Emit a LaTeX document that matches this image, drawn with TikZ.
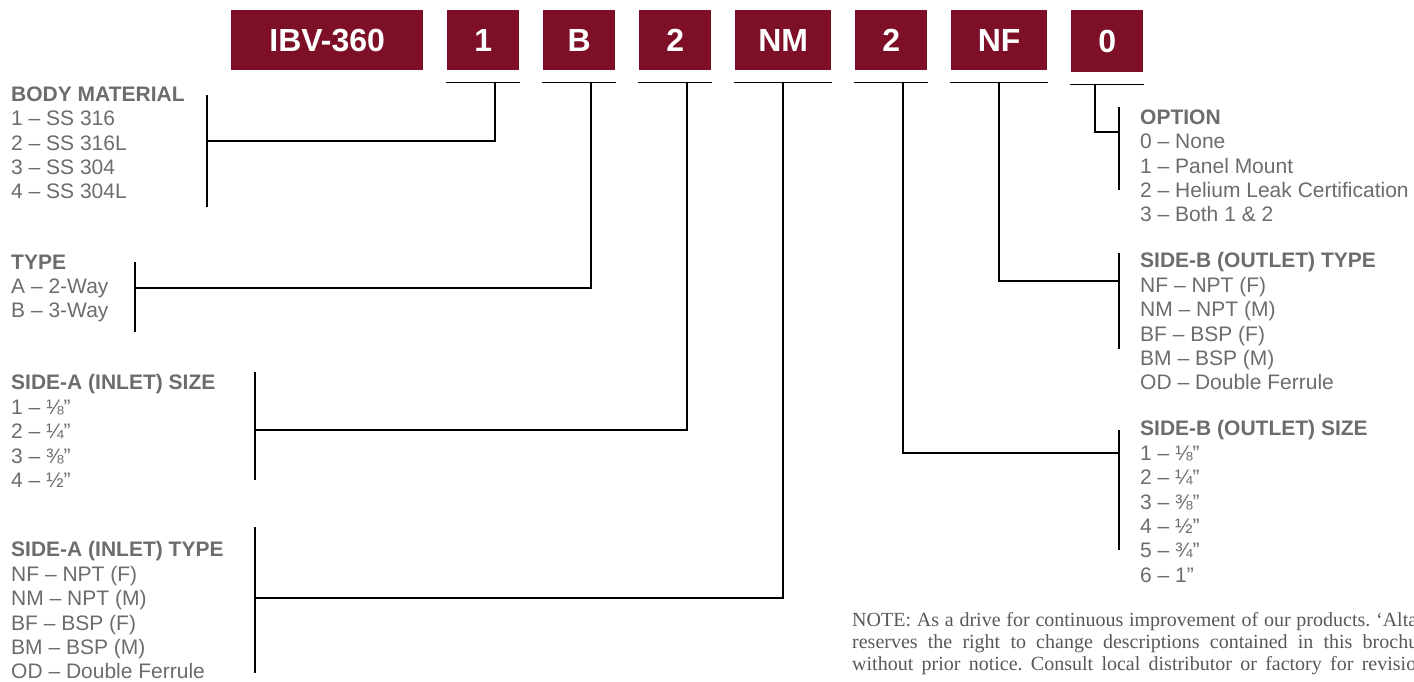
\documentclass[tikz,border=0pt]{standalone}
\usepackage{fontspec}
\setmainfont{Liberation Sans}
\newfontfamily\notefont{Liberation Serif}
\definecolor{ibvred}{RGB}{125,16,38}
\definecolor{txtgray}{RGB}{108,108,108}
\definecolor{notegray}{RGB}{88,88,88}
\frenchspacing

\begin{document}
\begin{tikzpicture}[
  x=1pt,y=-1pt,
  code/.style={fill=ibvred,text=white,font=\fontsize{32}{36}\selectfont\bfseries,
    minimum height=60pt,inner sep=0pt,anchor=north west},
  legend/.style={anchor=north west,inner sep=0pt,align=left,text=txtgray,
    font=\fontsize{21}{24.4}\selectfont},
  note/.style={anchor=base west,inner sep=0pt,text=notegray,
    font=\notefont\fontsize{20}{22}\selectfont},
  link/.style={line width=1.6pt}
]
  \useasboundingbox (0,0) rectangle (1414,681);

  % Ordering code boxes
  \node[code,minimum width=192pt] (ibv) at (231,10) {IBV-360};
  \node[code,minimum width=72pt] (b1) at (447,10) {1};
  \node[code,minimum width=72pt] (bB) at (543,10) {B};
  \node[code,minimum width=72pt] (b2) at (639,10) {2};
  \node[code,minimum width=96pt] (bNM) at (735,10) {NM};
  \node[code,minimum width=72pt] (b2b) at (855,10) {2};
  \node[code,minimum width=96pt] (bNF) at (951,10) {NF};
  \node[code,minimum width=72pt,minimum height=62pt] (b0) at (1071,10) {0};

  % Underlines
  \draw[link] ([xshift=-1pt,yshift=-12pt]b1.south west) -- ([xshift=1pt,yshift=-12pt]b1.south east);
  \draw[link] ([xshift=-1pt,yshift=-12pt]bB.south west) -- ([xshift=1pt,yshift=-12pt]bB.south east);
  \draw[link] ([xshift=-1pt,yshift=-12pt]b2.south west) -- ([xshift=1pt,yshift=-12pt]b2.south east);
  \draw[link] ([xshift=-1pt,yshift=-12pt]bNM.south west) -- ([xshift=1pt,yshift=-12pt]bNM.south east);
  \draw[link] ([xshift=-1pt,yshift=-12pt]b2b.south west) -- ([xshift=1pt,yshift=-12pt]b2b.south east);
  \draw[link] ([xshift=-1pt,yshift=-12pt]bNF.south west) -- ([xshift=1pt,yshift=-12pt]bNF.south east);
  \draw[link] ([xshift=-1pt,yshift=-12pt]b0.south west) -- ([xshift=1pt,yshift=-12pt]b0.south east);

  % Body material
  \node[legend] (body) at (11,86.5) {
    \textbf{BODY MATERIAL}\\
    1 – SS 316\\
    2 – SS 316L\\
    3 – SS 304\\
    4 – SS 304L
  };
  \draw[link] (207,95) -- (207,207);
  \coordinate (jbody) at (207,141);
  \draw[link] ([xshift=12pt,yshift=-12pt]b1.south) |- (jbody);

  % Type
  \node[legend] (type) at (11,254.5) {
    \textbf{TYPE}\\
    A – 2-Way\\
    B – 3-Way
  };
  \draw[link] (135,262) -- (135,332);
  \coordinate (jtype) at (135,288);
  \draw[link] ([xshift=12pt,yshift=-12pt]bB.south) |- (jtype);

  % Side-A size
  \node[legend] (sizeA) at (11,374.5) {
    \textbf{SIDE-A (INLET) SIZE}\\
    1 – ⅛”\\
    2 – ¼”\\
    3 – ⅜”\\
    4 – ½”
  };
  \draw[link] (255,372) -- (255,480);
  \coordinate (jsizeA) at (255,430);
  \draw[link] ([xshift=12pt,yshift=-12pt]b2.south) |- (jsizeA);

  % Side-A type
  \node[legend] (typeA) at (11,541.5) {
    \textbf{SIDE-A (INLET) TYPE}\\
    NF – NPT (F)\\
    NM – NPT (M)\\
    BF – BSP (F)\\
    BM – BSP (M)\\
    OD – Double Ferrule
  };
  \draw[link] (255,527) -- (255,673);
  \coordinate (jtypeA) at (255,598);
  \draw[link] ([yshift=-12pt]bNM.south) |- (jtypeA);

  % Option
  \node[legend] (option) at (1140,109.5) {
    \textbf{OPTION}\\
    0 – None\\
    1 – Panel Mount\\
    2 – Helium Leak Certification\\
    3 – Both 1 \& 2
  };
  \draw[link] (1119,107) -- (1119,190);
  \coordinate (joption) at (1119,132);
  \draw[link] ([xshift=-12pt,yshift=-12pt]b0.south) |- (joption);

  % Side-B type
  \node[legend] (typeB) at (1140,252.5) {
    \textbf{SIDE-B (OUTLET) TYPE}\\
    NF – NPT (F)\\
    NM – NPT (M)\\
    BF – BSP (F)\\
    BM – BSP (M)\\
    OD – Double Ferrule
  };
  \draw[link] (1119,253) -- (1119,349);
  \coordinate (jtypeB) at (1119,281);
  \draw[link] ([yshift=-12pt]bNF.south) |- (jtypeB);

  % Side-B size
  \node[legend] (sizeB) at (1140,420.5) {
    \textbf{SIDE-B (OUTLET) SIZE}\\
    1 – ⅛”\\
    2 – ¼”\\
    3 – ⅜”\\
    4 – ½”\\
    5 – ¾”\\
    6 – 1”
  };
  \draw[link] (1119,430) -- (1119,550);
  \coordinate (jsizeB) at (1119,453);
  \draw[link] ([xshift=12pt,yshift=-12pt]b2b.south) |- (jsizeB);

  % Note
  \node[note] (note1) at (852,626) {\makebox[565pt][s]{NOTE: As a drive for continuous improvement of our products. ‘Alta}};
  \node[note] (note2) at (852,648) {\makebox[566pt][s]{reserves the right to change descriptions contained in this brochu}};
  \node[note] (note3) at (852,670) {\makebox[564pt][s]{without prior notice. Consult local distributor or factory for revisio}};
\end{tikzpicture}
\end{document}
